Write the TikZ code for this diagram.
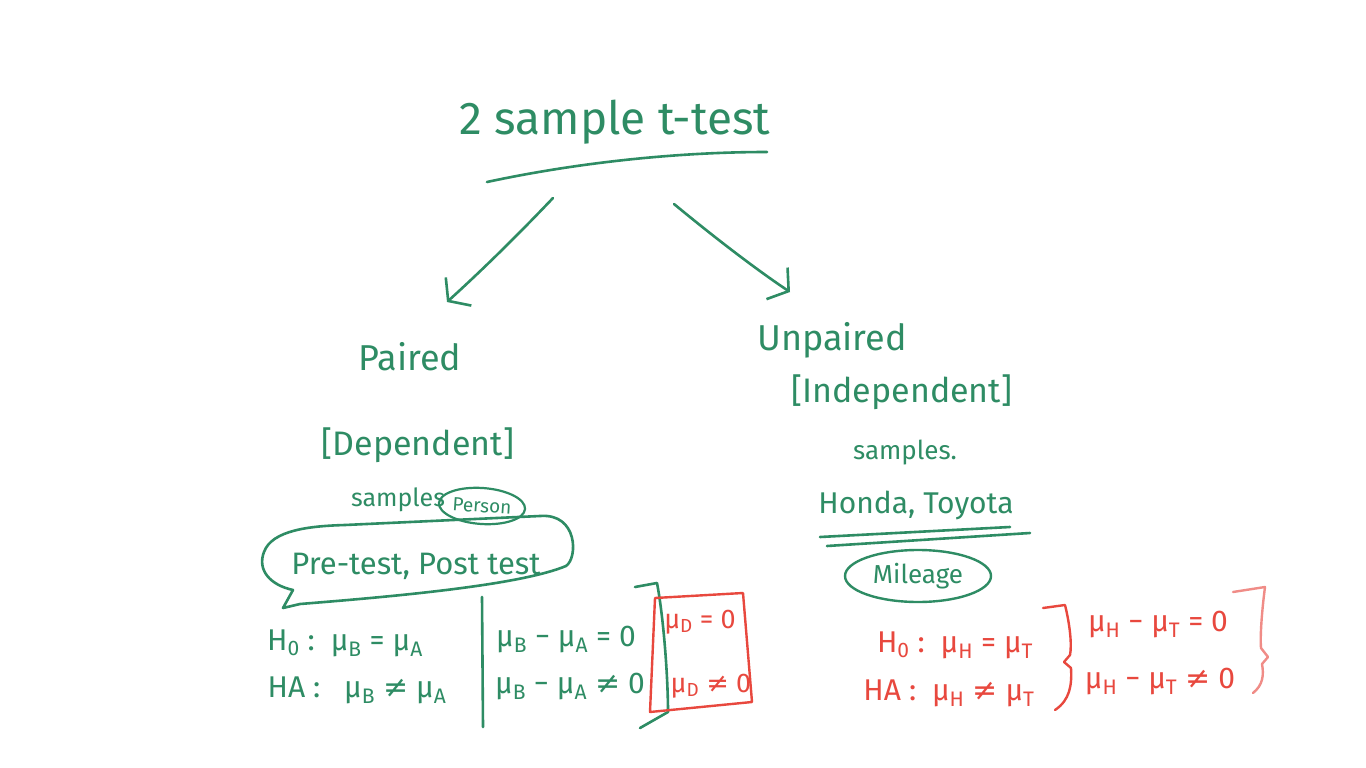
\documentclass[tikz,border=0pt]{standalone}
\usepackage{fontspec}
\setmainfont{Fira Sans}
\newfontfamily\symf{DejaVu Sans}
\usetikzlibrary{arrows.meta,shapes.geometric}
\definecolor{pen}{RGB}{46,140,100}
\definecolor{redpen}{RGB}{232,72,62}
\definecolor{pinkpen}{RGB}{240,140,135}
\newcommand\sbs[1]{\textsubscript{#1}}
\newcommand\nq{{\symf ≠}}
\begin{document}
\begin{tikzpicture}[x=1pt,y=-1pt,line cap=round,line join=round,
  ink/.style={draw=pen,line width=2.6pt},
  redink/.style={draw=redpen,line width=2.4pt},
  pinkink/.style={draw=pinkpen,line width=2.4pt},
  txt/.style={text=pen,inner sep=0pt,anchor=center},
  rtxt/.style={text=redpen,inner sep=0pt,anchor=center},
  fs/.style={font=\fontsize{#1}{#1}\selectfont},
  tip/.style={-{Straight Barb[length=14pt,width=38pt,line width=2.6pt]}}]
\useasboundingbox (0,0) rectangle (1366,768);
\fill[white] (0,0) rectangle (1366,768);

% title
\node[txt,fs=46] (title) at (615,122) {2 sample t-test};
\draw[ink] (487,182) .. controls (580,162) and (680,152) .. (767,152);

% arrows
\coordinate (ls) at (553,198);
\coordinate (le) at (447,302);
\coordinate (rs) at (674,204);
\coordinate (re) at (790,292);
\draw[ink,tip] (ls) .. controls (515,238) and (480,272) .. (le);
\draw[ink,tip] (rs) .. controls (720,242) and (760,272) .. (re);

% left branch
\node[txt,fs=36] (paired) at (410,357) {Paired};
\node[txt,fs=34] (dep) at (418,445) {[Dependent]};
\node[txt,fs=25] (samplesL) at (398,500) {samples};
\node[txt,fs=19,draw=pen,line width=2.2pt,ellipse,inner sep=1pt,minimum width=76pt,minimum height=36pt,rotate=-4] (person) at (482,506) {Person};
\draw[ink] (283,608) -- (293,590) .. controls (270,585) and (257,570) .. (264,552)
  .. controls (272,530) and (310,526) .. (345,525) -- (540,516)
  .. controls (578,513) and (578,558) .. (566,566)
  .. controls (520,585) and (400,596) .. (300,604) -- cycle;
\node[txt,fs=31] (prepost) at (416,566) {Pre-test, Post test};

\node[txt,fs=30] (h0L) at (345,643) {H\sbs{0} :\ \ μ\sbs{B} = μ\sbs{A}};
\node[txt,fs=30] (haL) at (357,690) {HA :\ \ \ μ\sbs{B} \nq\ μ\sbs{A}};
\coordinate (vt) at (482,597);
\coordinate (vb) at (483,727);
\draw[ink] (vt) -- (vb);
\node[txt,fs=30] (d0) at (566,640) {μ\sbs{B} − μ\sbs{A} = 0};
\node[txt,fs=30] (d1) at (570,687) {μ\sbs{B} − μ\sbs{A} \nq\ 0};
\draw[ink] (635,587) -- (657,583) .. controls (664,620) and (668,680) .. (668,712) -- (640,728);
\draw[redink] (655,598) -- (743,593) -- (752,702) -- (650,712) -- cycle;
\node[rtxt,fs=27] (md0) at (700,622) {μ\sbs{D} = 0};
\node[rtxt,fs=27] (md1) at (711,686) {μ\sbs{D} \nq\ 0};

% right branch
\node[txt,fs=36] (unpaired) at (832,340) {Unpaired};
\node[txt,fs=34] (indep) at (902,392) {[Independent]};
\node[txt,fs=26] (samplesR) at (905,453) {samples.};
\node[txt,fs=30] (honda) at (916,505) {Honda, Toyota};
\draw[ink] (820,537) -- (1010,527);
\draw[ink] (827,546) -- (1030,533);
\node[txt,fs=26,draw=pen,line width=2.4pt,ellipse,minimum width=146pt,minimum height=52pt] (mileage) at (918,576) {Mileage};

\node[rtxt,fs=30] (h0R) at (955,645) {H\sbs{0} :\ \ μ\sbs{H} = μ\sbs{T}};
\node[rtxt,fs=30] (haR) at (949,693) {HA :\ \ μ\sbs{H} \nq\ μ\sbs{T}};
\draw[redink] (1043,608) -- (1065,605) .. controls (1070,625) and (1072,645) .. (1070,655)
  -- (1064,662) -- (1071,668) .. controls (1072,685) and (1070,700) .. (1055,710);
\node[rtxt,fs=30] (e0) at (1158,625) {μ\sbs{H} − μ\sbs{T} = 0};
\node[rtxt,fs=30] (e1) at (1160,682) {μ\sbs{H} − μ\sbs{T} \nq\ 0};
\draw[pinkink] (1233,592) -- (1265,587) .. controls (1262,610) and (1260,635) .. (1261,648)
  -- (1268,657) -- (1262,664) .. controls (1264,675) and (1263,685) .. (1253,693);
\end{tikzpicture}
\end{document}
